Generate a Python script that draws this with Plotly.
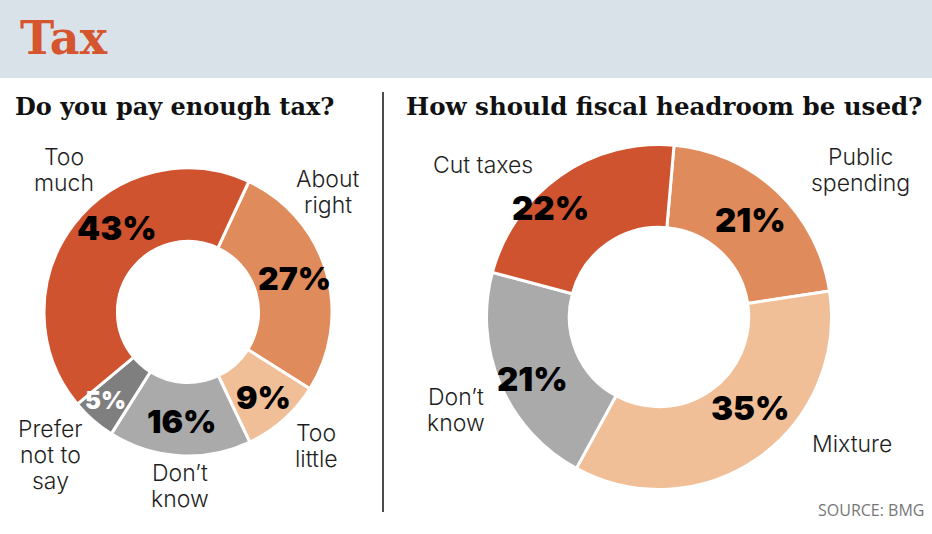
import math
import plotly.graph_objects as go

# ---- data ----
q1_labels = ["About right", "Too little", "Don't know", "Prefer not to say", "Too much"]
q1_values = [27, 9, 16, 5, 43]
q1_colors = ["#e08b5b", "#f0bf98", "#aaaaaa", "#7f7f7f", "#d05330"]
q1_text_colors = ["#000000", "#000000", "#000000", "#ffffff", "#000000"]

q2_labels = ["Public spending", "Mixture", "Don't know", "Cut taxes"]
q2_values = [21, 35, 21, 22]
q2_colors = ["#e08b5b", "#f0bf98", "#aaaaaa", "#d05330"]
q2_text_colors = ["#000000", "#000000", "#000000", "#000000"]

# category labels as displayed (line-broken)
q1_display = [["About", "right"], ["Too", "little"], ["Don’t", "know"],
              ["Prefer", "not to", "say"], ["Too", "much"]]
q2_display = [["Public", "spending"], ["Mixture"], ["Don’t", "know"], ["Cut taxes"]]

title = "Tax"
q1_title = "Do you pay enough tax?"
q2_title = "How should fiscal headroom be used?"
source = "SOURCE: BMG"

W, H = 932, 534

def px_x(x):
    return x / W

def px_y(y):
    return 1 - y / H

fig = go.Figure()

# donut geometry (pixels)
L_C, L_D, L_ROT = (188, 312), 288, 25
R_C, R_D, R_ROT = (659, 317), 345, 5

fig.add_trace(go.Pie(
    labels=q1_labels, values=q1_values, sort=False, direction="clockwise",
    rotation=L_ROT, hole=0.49,
    marker=dict(colors=q1_colors, line=dict(color="white", width=3)),
    textinfo="none",
    domain=dict(x=[px_x(L_C[0] - L_D / 2), px_x(L_C[0] + L_D / 2)],
                y=[px_y(L_C[1] + L_D / 2), px_y(L_C[1] - L_D / 2)]),
    hoverinfo="skip", showlegend=False,
))

fig.add_trace(go.Pie(
    labels=q2_labels, values=q2_values, sort=False, direction="clockwise",
    rotation=R_ROT, hole=0.52,
    marker=dict(colors=q2_colors, line=dict(color="white", width=3)),
    textinfo="none",
    domain=dict(x=[px_x(R_C[0] - R_D / 2), px_x(R_C[0] + R_D / 2)],
                y=[px_y(R_C[1] + R_D / 2), px_y(R_C[1] - R_D / 2)]),
    hoverinfo="skip", showlegend=False,
))


def pct_annotations(values, colors, center, rot, radii, nudges, sizes):
    out = []
    total = sum(values)
    start = rot
    for v, c, r, nd, s in zip(values, colors, radii, nudges, sizes):
        sweep = 360 * v / total
        mid = math.radians(start + sweep / 2 + nd)
        x = center[0] + r * math.sin(mid)
        y = center[1] - r * math.cos(mid)
        out.append(dict(text=f"{v}%", x=px_x(x), y=px_y(y), xanchor="center", yanchor="middle",
                        font=dict(family="Inter", size=s, color=c, weight=900)))
        start += sweep
    return out


lab_font = dict(family="Inter", size=23, color="#1f1f1f", weight=300)


def cat_annotations(display, anchors, spacing=26):
    out = []
    for lines, (x, y0) in zip(display, anchors):
        for i, ln in enumerate(lines):
            out.append(dict(text=ln, x=px_x(x), y=px_y(y0 + i * spacing),
                            xanchor="center", yanchor="middle", font=lab_font))
    return out


shapes = [
    dict(type="rect", xref="paper", yref="paper", x0=0, x1=1, y0=px_y(78), y1=1,
         fillcolor="#dae2e9", line=dict(width=0), layer="below"),
    dict(type="line", xref="paper", yref="paper", x0=px_x(383), x1=px_x(383),
         y0=px_y(92), y1=px_y(512), line=dict(color="#111111", width=1.5)),
]

ann = [
    dict(text=title, x=px_x(18), y=px_y(38), xanchor="left", yanchor="middle",
         font=dict(family="DejaVu Serif", size=46, color="#d5552f", weight="bold")),
    dict(text=q1_title, x=px_x(13), y=px_y(106), xanchor="left", yanchor="middle",
         font=dict(family="DejaVu Serif", size=24, color="#111111", weight="bold")),
    dict(text=q2_title, x=px_x(404), y=px_y(106), xanchor="left", yanchor="middle",
         font=dict(family="DejaVu Serif", size=24.5, color="#111111", weight="bold")),
    dict(text=source, x=px_x(926), y=px_y(510), xanchor="right", yanchor="middle",
         font=dict(family="Open Sans", size=16, color="#777777")),
]
# label anchor (x centre, y of first line) in pixels
ann += cat_annotations(q1_display, [(328, 179), (316, 433), (180, 473), (50, 429), (64, 157)])
ann += cat_annotations(q2_display, [(860, 157), (852, 444), (456, 397), (483, 165)])

ann += pct_annotations(q1_values, q1_text_colors, L_C, L_ROT,
                       radii=[112, 114, 110, 121, 110], nudges=[-1, 0, 0, 2, 12],
                       sizes=[32, 32, 32, 24, 33])
ann += pct_annotations(q2_values, q2_text_colors, R_C, R_ROT,
                       radii=[133, 129, 141, 154], nudges=[0, -10, -3, -10],
                       sizes=[33, 33, 33, 33])
for a in ann:
    a["xref"] = "paper"
    a["yref"] = "paper"
    a["showarrow"] = False

fig.update_layout(
    width=W, height=H, margin=dict(l=0, r=0, t=0, b=0),
    paper_bgcolor="white", plot_bgcolor="white",
    shapes=shapes, annotations=ann,
)

fig.write_html("out.html")
